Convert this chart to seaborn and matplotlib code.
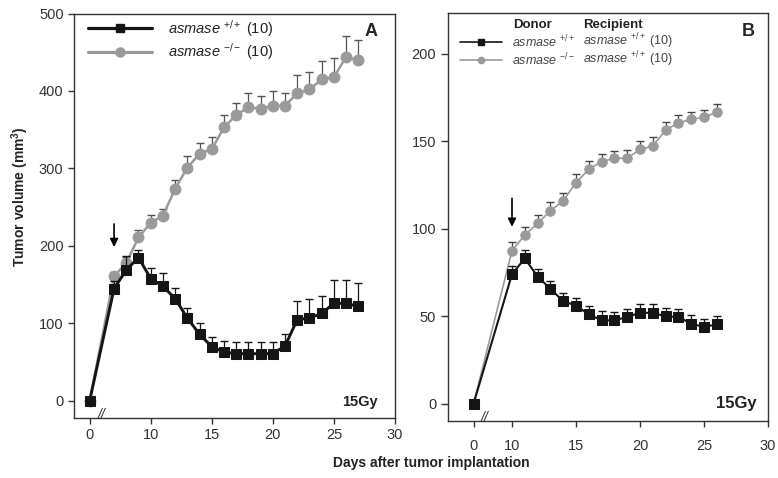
import numpy as np
import pandas as pd
import matplotlib
matplotlib.use("Agg")
import matplotlib.pyplot as plt
import matplotlib.transforms as mtrans
from matplotlib.lines import Line2D
import seaborn as sns

# ---------------- data ----------------
days_a = [0, 7, 8, 9, 10, 11, 12, 13, 14, 15, 16, 17, 18, 19, 20, 21, 22, 23, 24, 25, 26, 27]
a_wt = [0, 145, 169, 185, 158, 148, 132, 107, 86, 70, 63, 61, 61, 61, 61, 71, 105, 107, 113, 126, 126, 122]
a_wt_err = [0, 10, 18, 10, 14, 17, 14, 13, 15, 13, 15, 15, 15, 15, 15, 15, 24, 24, 22, 30, 30, 30]
a_ko = [0, 161, 178, 211, 230, 239, 274, 301, 319, 325, 353, 369, 379, 377, 381, 381, 397, 402, 415, 418, 444, 440]
a_ko_err = [0, 5, 8, 10, 10, 9, 11, 15, 14, 16, 16, 15, 19, 17, 19, 17, 23, 23, 24, 24, 27, 26]

days_b = [0, 10, 11, 12, 13, 14, 15, 16, 17, 18, 19, 20, 21, 22, 23, 24, 25, 26]
b_wt = [0, 74, 83, 72.6, 65.6, 58.6, 56, 51, 47.6, 47.6, 49.5, 52, 51.8, 49.9, 49.5, 45.7, 43.8, 45.3]
b_wt_err = [0, 4.7, 4.6, 4.4, 4.7, 4.6, 4.4, 4.6, 5.1, 4.7, 4.4, 4.7, 4.9, 4.7, 4.6, 5.1, 4.7, 4.6]
b_ko = [0, 87.5, 96.4, 103, 110.3, 116, 126.4, 134, 138.4, 140.3, 140.3, 145.4, 147.3, 156.4, 160.6, 162.5, 163.8, 166.7]
b_ko_err = [0, 4.7, 4.5, 4.6, 4.8, 4.5, 4.7, 4.6, 4.5, 4.4, 4.6, 4.8, 4.9, 4.7, 4.6, 4.5, 4.3, 4.6]

tick_labels_a = ["0", "10", "15", "20", "25", "30"]
tick_labels_b = ["0", "10", "15", "20", "25", "30"]
arrow_day_a, arrow_day_b = 7, 10

# ---------------- style ----------------
sns.set_theme(style="ticks")
plt.rcParams["font.family"] = ["Liberation Sans", "DejaVu Sans"]
plt.rcParams["mathtext.fontset"] = "custom"
plt.rcParams["mathtext.it"] = "Liberation Sans:italic"
plt.rcParams["mathtext.rm"] = "Liberation Sans"
plt.rcParams["mathtext.bf"] = "Liberation Sans:bold"

BLACK = "#151515"
GREY = "#9a9a9a"

fig = plt.figure(figsize=(7.78, 4.78), dpi=100)
axA = fig.add_axes([74 / 778, 60 / 478, 321 / 778, 404.5 / 478])
axB = fig.add_axes([448 / 778, 57 / 478, 320 / 778, 408.3 / 478])

ZERO_A, ZERO_B = 5, 7  # axis-break positions for day 0


def positions(days, zero_pos):
    d = np.asarray(days, dtype=float)
    return np.where(d == 0, zero_pos, d)


def draw_series(ax, days, vals, errs, zero_pos, color, ecolor, marker, ms, lw, z):
    pos = positions(days, zero_pos)
    vals = np.asarray(vals, float)
    errs = np.asarray(errs, float)
    m = errs > 0
    ax.errorbar(pos[m], vals[m], yerr=[np.zeros(m.sum()), errs[m]], fmt="none",
                ecolor=ecolor, elinewidth=0.9, capsize=3, capthick=1.0, zorder=z - 1)
    df = pd.DataFrame({"pos": pos, "vol": vals})
    sns.lineplot(data=df, x="pos", y="vol", ax=ax, color=color, marker=marker,
                 markersize=ms, linewidth=lw, markeredgecolor=color,
                 markerfacecolor=color, zorder=z, legend=False)


# Panel A
draw_series(axA, days_a, a_ko, a_ko_err, ZERO_A, GREY, "#555555", "o", 7.8, 1.8, 3)
draw_series(axA, days_a, a_wt, a_wt_err, ZERO_A, BLACK, BLACK, "s", 6.5, 2.1, 5)
# Panel B
draw_series(axB, days_b, b_ko, b_ko_err, ZERO_B, GREY, "#444444", "o", 6.8, 1.2, 3)
draw_series(axB, days_b, b_wt, b_wt_err, ZERO_B, BLACK, BLACK, "s", 6.5, 1.5, 5)

for ax, zero_pos, labels, xlim, ylim, yticks, brk in [
    (axA, ZERO_A, tick_labels_a, (3.72, 30), (-22, 500), range(0, 501, 100), 6.0),
    (axB, ZERO_B, tick_labels_b, (5.0, 30), (-10, 223.6), range(0, 201, 50), 7.9),
]:
    ax.set_xlim(*xlim)
    ax.set_ylim(*ylim)
    ax.set_xticks([zero_pos, 10, 15, 20, 25, 30])
    ax.set_xticklabels(labels)
    ax.set_yticks(list(yticks))
    ax.minorticks_off()
    ax.set_xlabel("")
    ax.set_ylabel("")
    ax.tick_params(axis="both", direction="out", length=4, width=1,
                   labelsize=10.5, labelcolor="#333333", color="#333333",
                   top=False, right=False)
    for s in ax.spines.values():
        s.set_visible(True)
        s.set_color("#333333")
        s.set_linewidth(1.0)
    trans = mtrans.blended_transform_factory(ax.transData, ax.transAxes)
    ax.text(brk, 0.008, "//", transform=trans, ha="center", va="center",
            fontsize=10, fontstyle="italic", color="#333333", clip_on=False)

axB.tick_params(axis="x", pad=9)
axB.tick_params(axis="y", length=5)

# arrows
axA.annotate("", xy=(arrow_day_a, 195), xytext=(arrow_day_a, 232),
             arrowprops=dict(arrowstyle="-|>", color="black", lw=1.2, mutation_scale=12))
axB.annotate("", xy=(arrow_day_b, 99.5), xytext=(arrow_day_b, 119),
             arrowprops=dict(arrowstyle="-|>", color="black", lw=1.2, mutation_scale=12))

# panel letters and dose
axA.text(0.925, 0.955, "A", transform=axA.transAxes, ha="center", va="center",
         fontsize=13, fontweight="bold")
axB.text(0.9375, 0.953, "B", transform=axB.transAxes, ha="center", va="center",
         fontsize=13, fontweight="bold")
axA.text(0.947, 0.04, "15Gy", transform=axA.transAxes, ha="right", va="center",
         fontsize=10.5, fontweight="bold", color="#222222")
axB.text(0.966, 0.044, "15Gy", transform=axB.transAxes, ha="right", va="center",
         fontsize=12, fontweight="bold", color="#222222")

# legend A
for y, c, mk, ms, lw, lab in [
    (0.963, BLACK, "s", 6, 2.3, r"$\it{asmase}$ $^{+/+}$ (10)"),
    (0.906, GREY, "o", 6.5, 2.3, r"$\it{asmase}$ $^{-/-}$ (10)"),
]:
    axA.add_line(Line2D([0.044, 0.243], [y, y], transform=axA.transAxes, color=c, lw=lw))
    axA.add_line(Line2D([0.1435], [y], transform=axA.transAxes, color=c, marker=mk,
                        markersize=ms, markeredgecolor=c, markerfacecolor=c))
    axA.text(0.293, y, lab, transform=axA.transAxes, ha="left", va="center",
             fontsize=10.5, color="#222222")

# legend B
axB.text(0.203, 0.971, "Donor", transform=axB.transAxes, ha="left", va="center",
         fontsize=9.5, fontweight="bold", color="#222222")
axB.text(0.422, 0.971, "Recipient", transform=axB.transAxes, ha="left", va="center",
         fontsize=9.5, fontweight="bold", color="#222222")
for y, c, mk, ms, donor in [
    (0.929, BLACK, "s", 4.5, r"$\it{asmase}$ $^{+/+}$"),
    (0.885, GREY, "o", 4.5, r"$\it{asmase}$ $^{-/-}$"),
]:
    axB.add_line(Line2D([0.0375, 0.169], [y, y], transform=axB.transAxes, color=c, lw=1.2))
    axB.add_line(Line2D([0.103], [y], transform=axB.transAxes, color=c, marker=mk,
                        markersize=ms, markeredgecolor=c, markerfacecolor=c))
    axB.text(0.200, y, donor, transform=axB.transAxes, ha="left", va="center",
             fontsize=9, color="#444444")
    axB.text(0.422, y, r"$\it{asmase}$ $^{+/+}$ (10)", transform=axB.transAxes,
             ha="left", va="center", fontsize=9, color="#444444")

# axis labels
fig.text(0.026, 0.588, r"Tumor volume (mm$^{\mathbf{3}}$)", rotation=90, ha="center",
         va="center", fontsize=10, fontweight="bold", color="#222222")
fig.text(0.554, 0.031, "Days after tumor implantation", ha="center", va="center",
         fontsize=10, fontweight="bold", color="#222222")

fig.savefig("out.png", dpi=100)
